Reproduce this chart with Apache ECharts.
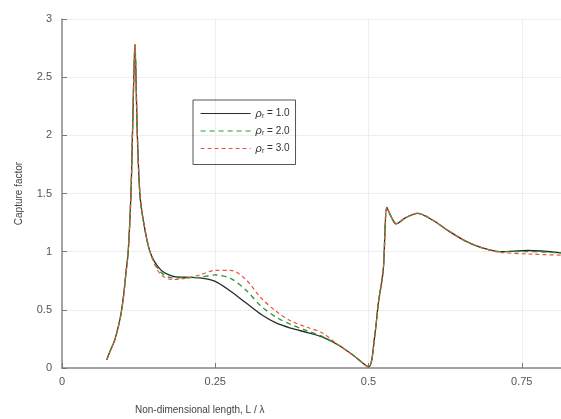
<!DOCTYPE html>
<html lang="en">
<head>
    <meta charset="UTF-8">
    <title>Capture factor</title>
    <script src="https://cdn.jsdelivr.net/npm/echarts@6/dist/echarts.min.js"></script>
    <style>
        html, body { margin: 0; padding: 0; background: #fff; }
        #main { width: 561px; height: 419px; }
    </style>
</head>
<body>
    <div id="main"></div>
    <script>
        // L / lambda sample positions (shared by all three curves)
        var xs = [0.073, 0.078, 0.086, 0.095, 0.1, 0.104, 0.108, 0.1125, 0.115, 0.119,
            0.1228, 0.127, 0.1326, 0.1435, 0.16, 0.18, 0.2, 0.225, 0.25, 0.275,
            0.3, 0.325, 0.35, 0.375, 0.4, 0.425, 0.45, 0.475, 0.5, 0.51,
            0.516, 0.524, 0.53, 0.537, 0.545, 0.56, 0.58, 0.605, 0.633, 0.66,
            0.687, 0.714, 0.76, 0.814];

        // capture factor, rho_r = 1.0
        var cf1 = [0.07, 0.14, 0.24, 0.43, 0.6, 0.8, 1.0, 1.5, 2.02, 2.78,
            2.02, 1.5, 1.27, 1.0, 0.85, 0.79, 0.78, 0.775, 0.745, 0.66,
            0.56, 0.46, 0.385, 0.34, 0.305, 0.265, 0.2, 0.11, 0.01, 0.27,
            0.556, 0.84, 1.38, 1.3, 1.24, 1.29, 1.33, 1.27, 1.17, 1.086,
            1.03, 1.0, 1.01, 0.99];
        // rho_r = 2.0
        var cf2 = [0.07, 0.14, 0.24, 0.43, 0.6, 0.8, 1.0, 1.5, 2.02, 2.78,
            2.02, 1.5, 1.27, 1.0, 0.83, 0.775, 0.775, 0.78, 0.8, 0.77,
            0.67, 0.53, 0.435, 0.37, 0.32, 0.27, 0.2, 0.11, 0.01, 0.27,
            0.556, 0.84, 1.38, 1.3, 1.24, 1.29, 1.33, 1.27, 1.17, 1.086,
            1.03, 1.0, 1.0, 0.99];
        // rho_r = 3.0
        var cf3 = [0.07, 0.14, 0.24, 0.43, 0.6, 0.8, 1.0, 1.5, 2.02, 2.78,
            2.02, 1.5, 1.27, 1.0, 0.81, 0.76, 0.77, 0.8, 0.84, 0.84,
            0.76, 0.6, 0.485, 0.4, 0.35, 0.3, 0.2, 0.11, 0.01, 0.27,
            0.556, 0.84, 1.38, 1.3, 1.24, 1.29, 1.33, 1.27, 1.17, 1.086,
            1.03, 0.995, 0.98, 0.97];

        var seriesNames = ['1.0', '2.0', '3.0'];

        function pairs(ys) {
            return xs.map(function (x, i) { return [x, ys[i]]; });
        }

        var myChart = echarts.init(document.getElementById('main'));
        var font = 'Liberation Sans, Arial, sans-serif';
        var axisText = { color: '#555', fontSize: 11, fontFamily: font };

        var option = {
            animation: false,
            backgroundColor: '#fff',
            title: {
                text: 'Non-dimensional length, L / λ',
                left: 130,
                top: 400,
                textStyle: { color: '#444', fontSize: 10, fontWeight: 'normal', fontFamily: font }
            },
            grid: { left: 62, right: 0, top: 19, bottom: 51 },
            legend: {
                orient: 'vertical',
                left: 193,
                top: 100,
                padding: [8, 6, 10, 7],
                itemWidth: 50,
                itemHeight: 10,
                itemGap: 6,
                borderColor: '#555',
                borderWidth: 1,
                data: seriesNames,
                itemStyle: { opacity: 0 },
                lineStyle: { width: 1.2 },
                formatter: function (name) {
                    return '{i|ρ}{s|r}{t| = ' + name + '}';
                },
                textStyle: {
                    color: '#333',
                    fontSize: 10,
                    fontFamily: font,
                    rich: {
                        i: { fontSize: 11, fontStyle: 'italic', color: '#333', fontFamily: font },
                        s: { fontSize: 7, color: '#333', padding: [5, 0, 0, 0], fontFamily: font },
                        t: { fontSize: 10, color: '#333', fontFamily: font }
                    }
                }
            },
            xAxis: {
                type: 'value',
                min: 0,
                max: 0.814,
                interval: 0.25,
                axisLine: { lineStyle: { color: '#888', width: 1.5 } },
                axisTick: { inside: true, length: 5, lineStyle: { color: '#777' } },
                axisLabel: Object.assign({ showMaxLabel: false, margin: 8 }, axisText),
                splitLine: { show: true, lineStyle: { color: '#eeeeee' } }
            },
            yAxis: {
                type: 'value',
                min: 0,
                max: 3,
                interval: 0.5,
                name: 'Capture factor',
                nameLocation: 'middle',
                nameGap: 38,
                nameTextStyle: { color: '#444', fontSize: 10, fontFamily: font },
                axisLine: { show: true, lineStyle: { color: '#888', width: 1.5 } },
                axisTick: { show: true, inside: true, length: 5, lineStyle: { color: '#777' } },
                axisLabel: Object.assign({ margin: 10 }, axisText),
                splitLine: { show: true, lineStyle: { color: '#eeeeee' } }
            },
            series: [
                {
                    name: seriesNames[0],
                    type: 'line',
                    data: pairs(cf1),
                    symbol: 'none',
                    smooth: 0.3,
                    lineStyle: { color: '#2a2a2a', width: 1.3 },
                    itemStyle: { color: '#2a2a2a' }
                },
                {
                    name: seriesNames[1],
                    type: 'line',
                    data: pairs(cf2),
                    symbol: 'none',
                    smooth: 0.3,
                    lineStyle: { color: '#239a2a', width: 1.3, type: [5, 4] },
                    itemStyle: { color: '#239a2a' }
                },
                {
                    name: seriesNames[2],
                    type: 'line',
                    data: pairs(cf3),
                    symbol: 'none',
                    smooth: 0.3,
                    lineStyle: { color: '#e8553e', width: 1.2, type: [4, 3] },
                    itemStyle: { color: '#e8553e' }
                }
            ]
        };
        myChart.setOption(option);
    </script>
</body>
</html>
